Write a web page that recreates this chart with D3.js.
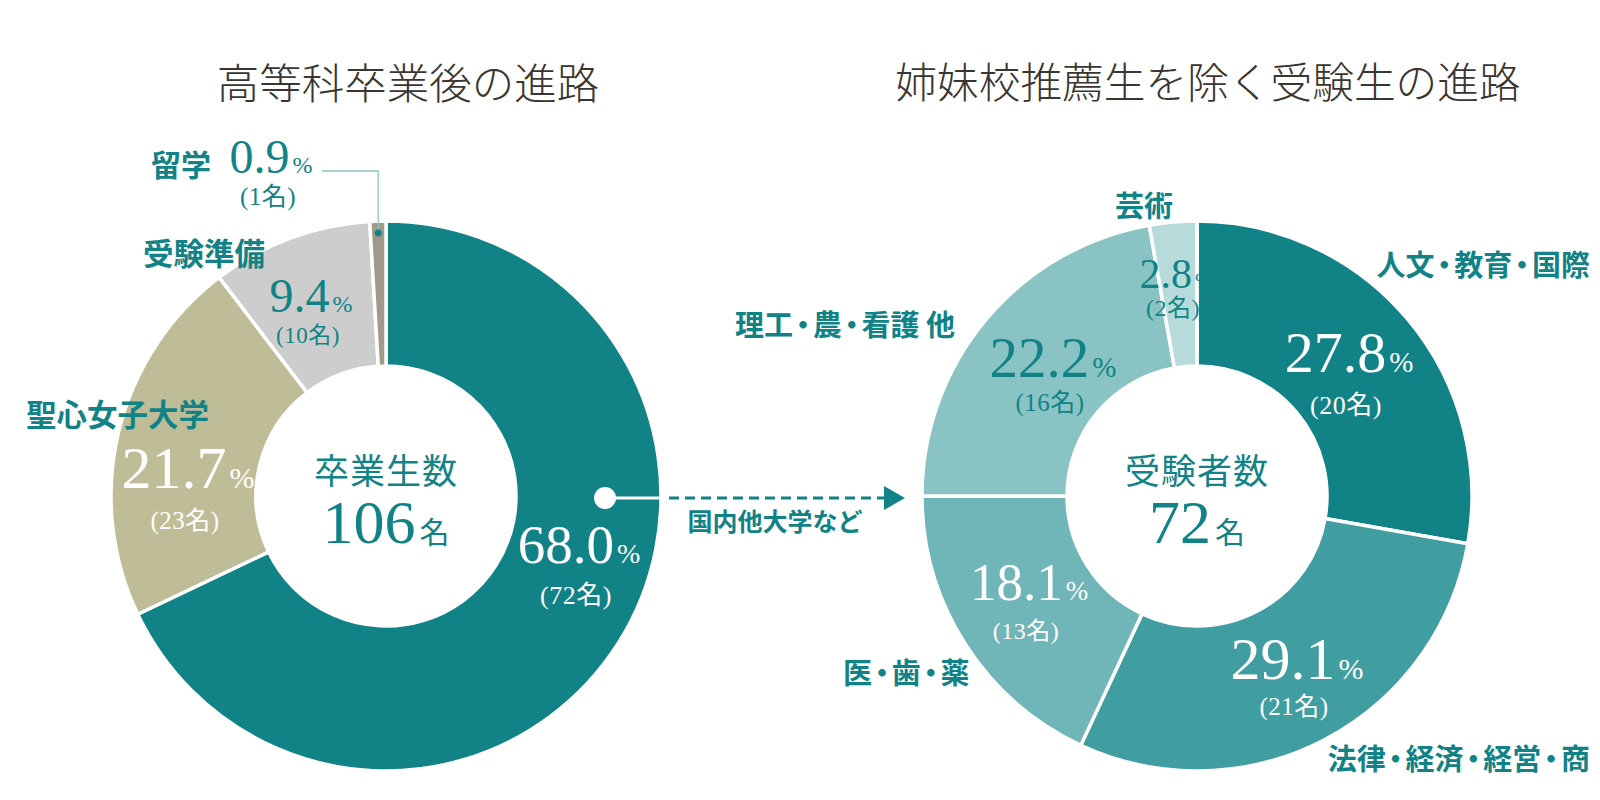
<!DOCTYPE html>
<html><head><meta charset="utf-8">
<script src="https://cdn.jsdelivr.net/npm/d3@7"></script>
<style>body{margin:0;background:#fff} .dot{font-feature-settings:"halt" 1;}</style>
</head><body>
<svg id="c" width="1600" height="800"></svg>
<script>
// ---- data ----
const leftTitle = "高等科卒業後の進路";
const rightTitle = "姉妹校推薦生を除く受験生の進路";
const leftCategories = ["国内他大学など", "聖心女子大学", "受験準備", "留学"];
const leftCounts = [72, 23, 10, 1];
const leftPercents = ["68.0", "21.7", "9.4", "0.9"];
const leftCenterLabel = "卒業生数";
const leftTotal = 106;
const rightCategories = ["人文・教育・国際", "法律・経済・経営・商", "医・歯・薬", "理工・農・看護 他", "芸術"];
const rightCounts = [20, 21, 13, 16, 2];
const rightPercents = ["27.8", "29.1", "18.1", "22.2", "2.8"];
const rightCenterLabel = "受験者数";
const rightTotal = 72;
const unit = "名";

// ---- styles / layout ----
const TEAL = "#118386";
const leftColors = ["#118386", "#bfbd98", "#cdcdcd", "#a19a8a"];
const rightColors = ["#118386", "#409ea0", "#70b5b7", "#89c3c3", "#b7dbdb"];
const NUMF = "'Liberation Serif', 'Noto Sans CJK JP', serif";
const CJK = "'Noto Sans CJK JP', sans-serif";

const svg = d3.select("#c");
const R = 275, r0 = 130;

// pct label layout (offset from center): dx, dy(baseline), size, color, count dy, count size
const leftPctLayout = [
  {dx: 193, dy: 67, size: 55, color: "#fff", cdy: 108, cs: 26},
  {dx: -198, dy: -8, size: 60, color: "#fff", cdy: 33, cs: 25},
  {dx: -75, dy: -184, size: 48, color: TEAL, cdy: -153, cs: 23},
  {dx: -115, dy: -323, size: 48, color: TEAL, cdy: -291, cs: 25}
];
const rightPctLayout = [
  {dx: 152, dy: -124, size: 58, color: "#fff", cdy: -82, cs: 26},
  {dx: 100, dy: 183, size: 60, color: "#fff", cdy: 219, cs: 25},
  {dx: -168, dy: 104, size: 53, color: "#fff", cdy: 143, cs: 24},
  {dx: -144, dy: -119, size: 57, color: TEAL, cdy: -85, cs: 25},
  {dx: -21, dy: -208, size: 42, color: TEAL, cdy: -180, cs: 24}
];
const leftCatLayout = [
  {x: 775, y: 520, anchor: "middle", size: 25},
  {x: 26, y: 413, anchor: "start", size: 30.5},
  {x: 143, y: 252, anchor: "start", size: 30.5},
  {x: 151, y: 163, anchor: "start", size: 30}
];
const rightCatLayout = [
  {x: 1590, y: 263, anchor: "end", size: 29},
  {x: 1590, y: 757, anchor: "end", size: 29},
  {x: 843, y: 671, anchor: "start", size: 29},
  {x: 735, y: 323, anchor: "start", size: 29},
  {x: 1115, y: 204, anchor: "start", size: 29}
];

function donut(cx, cy, counts, colors) {
  const g = svg.append("g").attr("transform", `translate(${cx},${cy})`);
  const pie = d3.pie().sort(null).value(d => d);
  const arc = d3.arc().innerRadius(r0).outerRadius(R);
  const arcs = pie(counts);
  g.selectAll("path.slice").data(arcs).join("path")
    .attr("class", "slice")
    .attr("d", arc)
    .attr("fill", (d, i) => colors[i])
    .attr("stroke", "#fff").attr("stroke-width", 3.5).attr("stroke-linejoin", "miter");
  return {g, arcs, arc};
}

function pctLabels(d, counts, percents, pctLayout) {
  d.arcs.forEach((a, i) => {
    const L = pctLayout[i];
    const t = d.g.append("text")
      .attr("x", L.dx).attr("y", L.dy)
      .attr("text-anchor", "middle")
      .attr("fill", L.color)
      .attr("font-family", NUMF);
    t.append("tspan").attr("font-size", L.size).text(percents[i]);
    t.append("tspan").attr("font-size", Math.round(L.size * 0.5)).attr("dx", 3).text("%");
    d.g.append("text")
      .attr("x", L.dx - 3).attr("y", L.cdy)
      .attr("text-anchor", "middle")
      .attr("fill", L.color)
      .attr("font-family", NUMF)
      .attr("font-size", L.cs)
      .attr("letter-spacing", 0.5)
      .text(`(${counts[i]}${unit})`);
  });
}

function centerLabel(cx, cy, label, total) {
  svg.append("text").attr("x", cx).attr("y", cy - 28)
    .attr("text-anchor", "middle").attr("dominant-baseline", "central")
    .attr("fill", TEAL).attr("font-family", CJK).attr("font-weight", 400)
    .attr("font-size", 35).attr("letter-spacing", 1).text(label);
  const t = svg.append("text").attr("x", cx).attr("y", cy + 47)
    .attr("text-anchor", "middle").attr("fill", TEAL);
  t.append("tspan").attr("font-family", NUMF).attr("font-size", 62).text(total);
  t.append("tspan").attr("font-family", CJK).attr("font-size", 30).attr("dx", 4).text(unit);
}

function catLabels(cats, layout) {
  cats.forEach((c, i) => {
    const L = layout[i];
    const t = svg.append("text").attr("x", L.x).attr("y", L.y)
      .attr("text-anchor", L.anchor).attr("dominant-baseline", "central")
      .attr("fill", TEAL).attr("font-family", CJK).attr("font-weight", 700)
      .attr("font-size", L.size);
    const parts = c.split("・");
    const pad = L.size * 0.09;
    parts.forEach((p, k) => {
      if (k > 0) {
        t.append("tspan").attr("class", "dot").attr("dx", pad).text("・");
        t.append("tspan").attr("dx", pad).text(p);
      } else {
        t.append("tspan").text(p);
      }
    });
  });
}

// titles
svg.append("text").attr("x", 408).attr("y", 80)
  .attr("text-anchor", "middle").attr("dominant-baseline", "central")
  .attr("fill", "#3a3531").attr("font-family", CJK).attr("font-weight", 300)
  .attr("font-size", 42.5).text(leftTitle);
svg.append("text").attr("x", 1208).attr("y", 80)
  .attr("text-anchor", "middle").attr("dominant-baseline", "central")
  .attr("fill", "#3a3531").attr("font-family", CJK).attr("font-weight", 300)
  .attr("font-size", 41.7).text(rightTitle);

const LC = [386, 496], RC = [1197, 496];
const left = donut(LC[0], LC[1], leftCounts, leftColors);
const right = donut(RC[0], RC[1], rightCounts, rightColors);

// leader line for smallest left slice
{
  const a = left.arcs[3];
  const mid = (a.startAngle + a.endAngle) / 2;
  const rr = 263;
  const px = LC[0] + Math.sin(mid) * rr, py = LC[1] - Math.cos(mid) * rr;
  svg.append("path")
    .attr("d", `M322,171 H${px} V${py}`)
    .attr("fill", "none").attr("stroke", "#8cc4c4").attr("stroke-width", 1.3);
  svg.append("circle").attr("cx", px).attr("cy", py).attr("r", 3.5).attr("fill", TEAL);
}

// connector from main left slice to right donut
{
  const y = LC[1] + 2;
  const x0 = 605, xEdge = LC[0] + Math.sqrt(R * R - 4);
  const xR = RC[0] - R;
  svg.append("line").attr("x1", x0).attr("x2", xEdge).attr("y1", y).attr("y2", y)
    .attr("stroke", "#fff").attr("stroke-width", 3);
  svg.append("circle").attr("cx", x0).attr("cy", y).attr("r", 11).attr("fill", "#fff");
  svg.append("line").attr("x1", xEdge + 8).attr("x2", xR - 38).attr("y1", y).attr("y2", y)
    .attr("stroke", TEAL).attr("stroke-width", 3).attr("stroke-dasharray", "10 6");
  svg.append("path")
    .attr("d", `M${xR - 38},${y - 12} L${xR - 17},${y} L${xR - 38},${y + 12} Z`)
    .attr("fill", TEAL);
}

pctLabels(left, leftCounts, leftPercents, leftPctLayout);
pctLabels(right, rightCounts, rightPercents, rightPctLayout);
centerLabel(LC[0], LC[1], leftCenterLabel, leftTotal);
centerLabel(RC[0], RC[1], rightCenterLabel, rightTotal);
catLabels(leftCategories, leftCatLayout);
catLabels(rightCategories, rightCatLayout);
</script>
</body></html>
